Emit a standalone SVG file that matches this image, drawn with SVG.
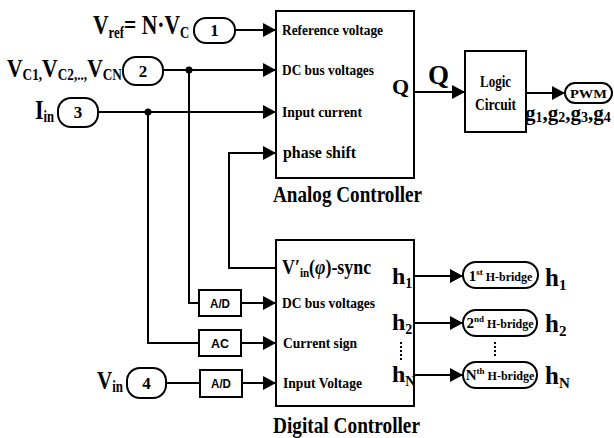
<svg xmlns="http://www.w3.org/2000/svg" width="614" height="438" viewBox="0 0 614 438">
<style>
.ln{stroke:#000;stroke-width:2;fill:none}
.bx{stroke:#000;stroke-width:2;fill:#fff}
.t{font-family:"Liberation Serif","Times New Roman",serif;font-weight:bold;fill:#000}
.s{font-family:"Liberation Sans",Arial,sans-serif;font-weight:bold;fill:#000}
.m{text-anchor:middle}
.dot{fill:#000}
.dt{stroke:#000;stroke-width:2;stroke-dasharray:2 2;fill:none}
</style>
<defs>
<marker id="arr" markerUnits="userSpaceOnUse" markerWidth="14" markerHeight="14" refX="13" refY="7" orient="auto"><path d="M0,0 L13,7 L0,14 z" fill="#000"/></marker>
</defs>
<rect width="614" height="438" fill="#fff"/>

<g id="connectors">
<path class="ln" d="M235,30 H276" marker-end="url(#arr)"/>
<path class="ln" d="M163,70 H276" marker-end="url(#arr)"/>
<path class="ln" d="M98,112 H276" marker-end="url(#arr)"/>
<path class="ln" d="M276,268 H229 V153 H276" marker-end="url(#arr)"/>
<path class="ln" d="M189,70 V303 H199"/>
<path class="ln" d="M241,303 H276" marker-end="url(#arr)"/>
<path class="ln" d="M148,112 V343 H199"/>
<path class="ln" d="M241,343 H276" marker-end="url(#arr)"/>
<path class="ln" d="M166,383 H200"/>
<path class="ln" d="M242,383 H276" marker-end="url(#arr)"/>
<path class="ln" d="M414,92 H465" marker-end="url(#arr)"/>
<path class="ln" d="M526,93 H565" marker-end="url(#arr)"/>
<path class="ln" d="M414,276 H463" marker-end="url(#arr)"/>
<path class="ln" d="M414,323 H463" marker-end="url(#arr)"/>
<path class="ln" d="M414,375 H463" marker-end="url(#arr)"/>
<circle class="dot" cx="189" cy="70" r="3.5"/>
<circle class="dot" cx="148" cy="112" r="3.5"/>
<path class="dt" d="M495,342 V358"/>
</g>

<g id="in1">
<text class="t" transform="translate(93,34) scale(0.8,1)"><tspan font-size="27">V</tspan><tspan font-size="16" dy="4">ref</tspan><tspan font-size="27" dy="-4">= N·V</tspan><tspan font-size="16" dy="4">C</tspan></text>
<rect class="bx" x="194" y="18" width="41" height="25" rx="12"/>
<text class="t m" x="214.5" y="36" font-size="17">1</text>
</g>

<g id="in2">
<text class="t" transform="translate(7,77) scale(0.83,1)"><tspan font-size="26">V</tspan><tspan font-size="16" dy="3">C1,</tspan><tspan font-size="26" dy="-3">V</tspan><tspan font-size="16" dy="3">C2,..,</tspan><tspan font-size="26" dy="-3">V</tspan><tspan font-size="16" dy="3">CN</tspan></text>
<rect class="bx" x="123" y="57" width="40" height="28" rx="13"/>
<text class="t m" x="143" y="77" font-size="17">2</text>
</g>

<g id="in3">
<text class="t" transform="translate(35,119) scale(0.79,1)"><tspan font-size="28">I</tspan><tspan font-size="16" dy="3">in</tspan></text>
<rect class="bx" x="58" y="98" width="40" height="29" rx="13"/>
<text class="t m" x="78" y="118" font-size="17">3</text>
</g>

<g id="in4">
<text class="t" transform="translate(97,389) scale(0.81,1)"><tspan font-size="26">V</tspan><tspan font-size="16" dy="3">in</tspan></text>
<rect class="bx" x="127" y="368" width="39" height="30" rx="13"/>
<text class="t m" x="146.5" y="389" font-size="17">4</text>
</g>

<g id="ad1">
<rect class="bx" x="199" y="290" width="42" height="26"/>
<text class="s m" x="220" y="308" font-size="12" textLength="20" lengthAdjust="spacingAndGlyphs">A/D</text>
</g>
<g id="ac">
<rect class="bx" x="199" y="330" width="42" height="26"/>
<text class="s m" x="220" y="348" font-size="12" textLength="18" lengthAdjust="spacingAndGlyphs">AC</text>
</g>
<g id="ad2">
<rect class="bx" x="200" y="370" width="42" height="27"/>
<text class="s m" x="221" y="388" font-size="12" textLength="20" lengthAdjust="spacingAndGlyphs">A/D</text>
</g>

<g id="analog">
<rect class="bx" x="276" y="11" width="138" height="167"/>
<text class="t" x="282" y="35" font-size="15" textLength="101" lengthAdjust="spacingAndGlyphs">Reference voltage</text>
<text class="t" x="282" y="75" font-size="15" textLength="92" lengthAdjust="spacingAndGlyphs">DC bus voltages</text>
<text class="t" x="282" y="117" font-size="15" textLength="80" lengthAdjust="spacingAndGlyphs">Input current</text>
<text class="t" x="283" y="158" font-size="16" textLength="73" lengthAdjust="spacingAndGlyphs">phase shift</text>
<text class="t" x="392" y="94" font-size="22">Q</text>
<text class="t" x="273" y="202" font-size="23" textLength="149" lengthAdjust="spacingAndGlyphs">Analog Controller</text>
</g>

<g id="qlabel">
<text class="t" x="428" y="84" font-size="27">Q</text>
</g>

<g id="logic">
<rect class="bx" x="465" y="51" width="61" height="81"/>
<text class="t m" x="495.5" y="87" font-size="16" textLength="31" lengthAdjust="spacingAndGlyphs">Logic</text>
<text class="t m" x="495.5" y="110" font-size="16" textLength="41" lengthAdjust="spacingAndGlyphs">Circuit</text>
</g>

<g id="pwm">
<rect class="bx" x="565" y="83" width="47" height="20" rx="10"/>
<text class="t m" x="588.5" y="97.5" font-size="13" textLength="37" lengthAdjust="spacingAndGlyphs">PWM</text>
<text class="t" x="525" y="120"><tspan font-size="21">g</tspan><tspan font-size="14" dy="2">1</tspan><tspan font-size="21" dy="-2">,g</tspan><tspan font-size="14" dy="2">2</tspan><tspan font-size="21" dy="-2">,g</tspan><tspan font-size="14" dy="2">3</tspan><tspan font-size="21" dy="-2">,g</tspan><tspan font-size="14" dy="2">4</tspan></text>
</g>

<g id="digital">
<rect class="bx" x="276" y="240" width="138" height="166"/>
<text class="t" transform="translate(282,274) scale(0.85,1)"><tspan font-size="21">V′</tspan><tspan font-size="13" dy="3">in</tspan><tspan font-size="21" dy="-3">(</tspan><tspan font-size="21" font-style="italic">φ</tspan><tspan font-size="21">)-sync</tspan></text>
<text class="t" x="282" y="308" font-size="15" textLength="93" lengthAdjust="spacingAndGlyphs">DC bus voltages</text>
<text class="t" x="283" y="348" font-size="15" textLength="74" lengthAdjust="spacingAndGlyphs">Current sign</text>
<text class="t" x="283" y="388" font-size="15" textLength="79" lengthAdjust="spacingAndGlyphs">Input Voltage</text>
<text class="t" x="392" y="284"><tspan font-size="24">h</tspan><tspan font-size="14" dy="4">1</tspan></text>
<text class="t" x="392" y="330"><tspan font-size="24">h</tspan><tspan font-size="14" dy="4">2</tspan></text>
<text class="t" x="392" y="382"><tspan font-size="24">h</tspan><tspan font-size="14" dy="4">N</tspan></text>
<path class="dt" d="M401,342 V362"/>
<text class="t" x="273" y="433" font-size="23" textLength="147" lengthAdjust="spacingAndGlyphs">Digital Controller</text>
</g>

<g id="hb1">
<rect class="bx" x="463" y="262" width="75" height="26" rx="13"/>
<text class="t m" x="500.5" y="281"><tspan font-size="15">1</tspan><tspan font-size="9" dy="-6">st</tspan><tspan font-size="12" dy="6"> H-bridge</tspan></text>
<text class="t" x="545" y="286"><tspan font-size="25">h</tspan><tspan font-size="15" dy="4">1</tspan></text>
</g>
<g id="hb2">
<rect class="bx" x="463" y="310" width="74" height="26" rx="13"/>
<text class="t m" x="500" y="328"><tspan font-size="15">2</tspan><tspan font-size="9" dy="-6">nd</tspan><tspan font-size="12" dy="6"> H-bridge</tspan></text>
<text class="t" x="545" y="332"><tspan font-size="25">h</tspan><tspan font-size="15" dy="4">2</tspan></text>
</g>
<g id="hbN">
<rect class="bx" x="463" y="362" width="74" height="26" rx="13"/>
<text class="t m" x="500" y="380"><tspan font-size="15">N</tspan><tspan font-size="9" dy="-6">th</tspan><tspan font-size="12" dy="6"> H-bridge</tspan></text>
<text class="t" x="545" y="384"><tspan font-size="25">h</tspan><tspan font-size="15" dy="4">N</tspan></text>
</g>
</svg>
